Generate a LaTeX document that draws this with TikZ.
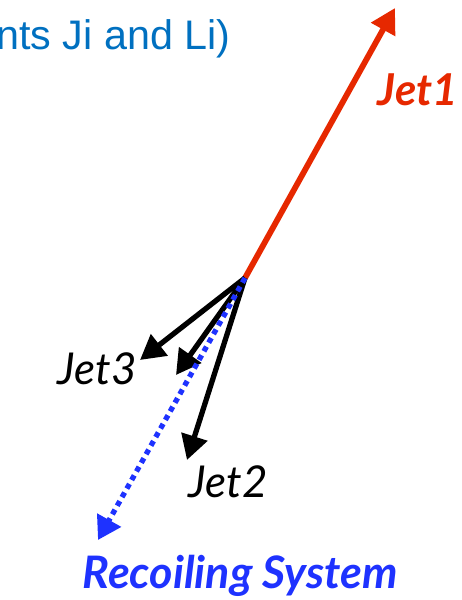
\documentclass[tikz,border=0pt]{standalone}
\usepackage{fontspec}
\setmainfont{Liberation Sans}
\newfontfamily\jetfont{Lato}
\usetikzlibrary{arrows.meta}
\definecolor{headblue}{RGB}{0,112,192}
\definecolor{jetred}{RGB}{230,40,0}
\definecolor{recblue}{RGB}{30,50,255}
\begin{document}
\begin{tikzpicture}[jet/.style={line width=3pt, -{Triangle[length=14pt, width=15pt]}},
  jetlabel/.style={font=\jetfont\itshape\fontsize{25}{28}\selectfont, inner sep=0pt}]
  \useasboundingbox (0,0) rectangle (9.24,12);
  \node[anchor=base west, inner sep=0pt, text=headblue, font=\fontsize{23.5}{27}\selectfont] (title) at (-0.08,11.0) {nts Ji and Li)};
  \coordinate (vtx) at (4.9,6.44);
  \coordinate (tip1) at (7.9,11.84);
  \coordinate (tip3) at (2.8,4.8);
  \coordinate (tipm) at (3.52,4.5);
  \coordinate (tip2) at (3.74,2.8);
  \coordinate (tipr) at (1.96,1.2);
  % jets
  \draw[jet, draw=jetred, fill=jetred, line width=3.3pt] (vtx) -- (tip1);
  \draw[jet] (vtx) -- (tip3);
  \draw[jet] (vtx) -- (tipm);
  \draw[jet] (vtx) -- (tip2);
  \draw[draw=recblue, line width=3pt, dash pattern=on 3pt off 2.6pt, -{Triangle[length=13pt, width=15pt, fill=recblue]}] (vtx) -- (tipr);
  % labels
  \node[jetlabel, font=\jetfont\bfseries\itshape\fontsize{25}{28}\selectfont, text=jetred] (j1) at (8.36,10.2) {Jet1};
  \node[jetlabel] (j3) at (1.94,4.62) {Jet3};
  \node[jetlabel] (j2) at (4.56,2.36) {Jet2};
  \node[jetlabel, font=\jetfont\bfseries\itshape\fontsize{25.5}{28}\selectfont, text=recblue] (rec) at (4.8,0.48) {Recoiling System};
\end{tikzpicture}
\end{document}
